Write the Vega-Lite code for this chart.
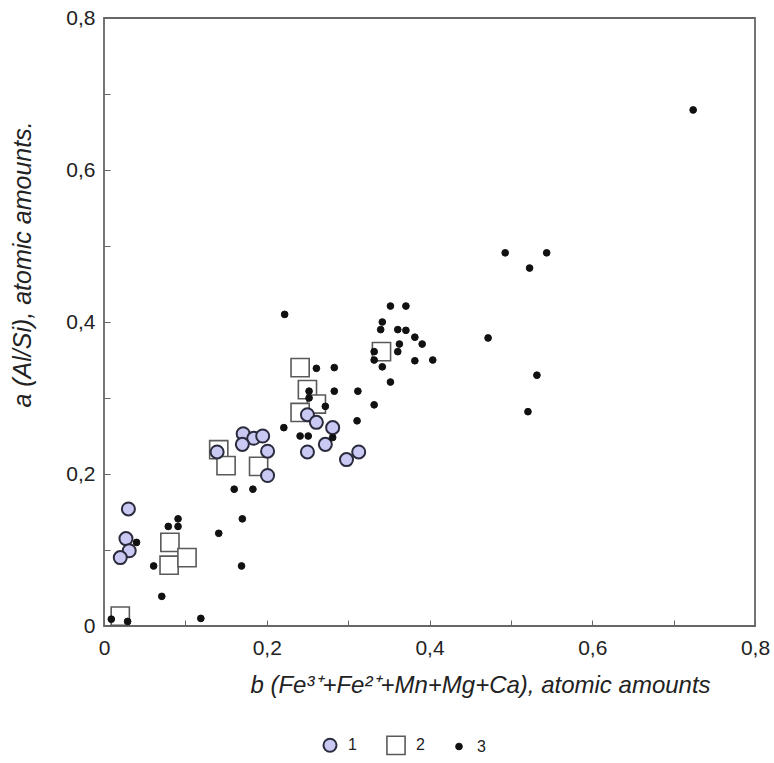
{
  "$schema": "https://vega.github.io/schema/vega-lite/v6.json",
  "width": 651,
  "height": 608,
  "autosize": {"type": "none"},
  "padding": {"left": 104, "top": 18, "right": 19, "bottom": 137},
  "background": "white",
  "config": {
    "view": {"stroke": "#666666", "strokeWidth": 1.8},
    "font": "Liberation Sans"
  },
  "data": {
    "values": [
      {"x": 0.020, "y": 0.013, "g": "2"},
      {"x": 0.081, "y": 0.110, "g": "2"},
      {"x": 0.080, "y": 0.080, "g": "2"},
      {"x": 0.102, "y": 0.090, "g": "2"},
      {"x": 0.141, "y": 0.232, "g": "2"},
      {"x": 0.150, "y": 0.211, "g": "2"},
      {"x": 0.190, "y": 0.210, "g": "2"},
      {"x": 0.241, "y": 0.340, "g": "2"},
      {"x": 0.250, "y": 0.311, "g": "2"},
      {"x": 0.261, "y": 0.292, "g": "2"},
      {"x": 0.241, "y": 0.281, "g": "2"},
      {"x": 0.341, "y": 0.361, "g": "2"},
      {"x": 0.030, "y": 0.154, "g": "1"},
      {"x": 0.027, "y": 0.115, "g": "1"},
      {"x": 0.031, "y": 0.099, "g": "1"},
      {"x": 0.020, "y": 0.090, "g": "1"},
      {"x": 0.139, "y": 0.229, "g": "1"},
      {"x": 0.171, "y": 0.253, "g": "1"},
      {"x": 0.184, "y": 0.247, "g": "1"},
      {"x": 0.195, "y": 0.250, "g": "1"},
      {"x": 0.170, "y": 0.239, "g": "1"},
      {"x": 0.201, "y": 0.230, "g": "1"},
      {"x": 0.201, "y": 0.198, "g": "1"},
      {"x": 0.250, "y": 0.278, "g": "1"},
      {"x": 0.261, "y": 0.268, "g": "1"},
      {"x": 0.281, "y": 0.261, "g": "1"},
      {"x": 0.272, "y": 0.239, "g": "1"},
      {"x": 0.250, "y": 0.229, "g": "1"},
      {"x": 0.298, "y": 0.219, "g": "1"},
      {"x": 0.313, "y": 0.229, "g": "1"},
      {"x": 0.009, "y": 0.009, "g": "3"},
      {"x": 0.029, "y": 0.006, "g": "3"},
      {"x": 0.040, "y": 0.110, "g": "3"},
      {"x": 0.061, "y": 0.079, "g": "3"},
      {"x": 0.071, "y": 0.039, "g": "3"},
      {"x": 0.079, "y": 0.131, "g": "3"},
      {"x": 0.091, "y": 0.131, "g": "3"},
      {"x": 0.091, "y": 0.141, "g": "3"},
      {"x": 0.119, "y": 0.010, "g": "3"},
      {"x": 0.141, "y": 0.122, "g": "3"},
      {"x": 0.160, "y": 0.180, "g": "3"},
      {"x": 0.183, "y": 0.180, "g": "3"},
      {"x": 0.170, "y": 0.141, "g": "3"},
      {"x": 0.169, "y": 0.079, "g": "3"},
      {"x": 0.222, "y": 0.410, "g": "3"},
      {"x": 0.221, "y": 0.261, "g": "3"},
      {"x": 0.241, "y": 0.250, "g": "3"},
      {"x": 0.251, "y": 0.250, "g": "3"},
      {"x": 0.261, "y": 0.339, "g": "3"},
      {"x": 0.283, "y": 0.340, "g": "3"},
      {"x": 0.252, "y": 0.309, "g": "3"},
      {"x": 0.252, "y": 0.300, "g": "3"},
      {"x": 0.283, "y": 0.309, "g": "3"},
      {"x": 0.312, "y": 0.309, "g": "3"},
      {"x": 0.272, "y": 0.289, "g": "3"},
      {"x": 0.311, "y": 0.270, "g": "3"},
      {"x": 0.332, "y": 0.291, "g": "3"},
      {"x": 0.281, "y": 0.248, "g": "3"},
      {"x": 0.352, "y": 0.421, "g": "3"},
      {"x": 0.371, "y": 0.421, "g": "3"},
      {"x": 0.342, "y": 0.400, "g": "3"},
      {"x": 0.340, "y": 0.390, "g": "3"},
      {"x": 0.361, "y": 0.390, "g": "3"},
      {"x": 0.371, "y": 0.389, "g": "3"},
      {"x": 0.382, "y": 0.380, "g": "3"},
      {"x": 0.391, "y": 0.371, "g": "3"},
      {"x": 0.363, "y": 0.371, "g": "3"},
      {"x": 0.361, "y": 0.361, "g": "3"},
      {"x": 0.332, "y": 0.361, "g": "3"},
      {"x": 0.332, "y": 0.350, "g": "3"},
      {"x": 0.382, "y": 0.349, "g": "3"},
      {"x": 0.404, "y": 0.350, "g": "3"},
      {"x": 0.342, "y": 0.341, "g": "3"},
      {"x": 0.352, "y": 0.321, "g": "3"},
      {"x": 0.724, "y": 0.679, "g": "3"},
      {"x": 0.493, "y": 0.491, "g": "3"},
      {"x": 0.544, "y": 0.491, "g": "3"},
      {"x": 0.523, "y": 0.471, "g": "3"},
      {"x": 0.472, "y": 0.379, "g": "3"},
      {"x": 0.532, "y": 0.330, "g": "3"},
      {"x": 0.521, "y": 0.282, "g": "3"}
    ]
  },
  "mark": {"type": "point", "filled": false, "opacity": 1},
  "encoding": {
    "x": {
      "field": "x", "type": "quantitative",
      "scale": {"domain": [0, 0.8], "nice": false, "zero": false},
      "axis": {
        "title": "b (Fe³⁺+Fe²⁺+Mn+Mg+Ca), atomic amounts",
        "titleFont": "Liberation Sans", "titleFontStyle": "italic", "titleFontWeight": "normal",
        "titleFontSize": 24, "titleColor": "#222", "titlePadding": 15, "titleX": 376,
        "values": [0, 0.1, 0.2, 0.3, 0.4, 0.5, 0.6, 0.7, 0.8],
        "labelExpr": "round(datum.value*10) % 2 == 0 ? (datum.value == 0 ? '0' : replace(format(datum.value, '.1f'), '.', ',')) : ''",
        "labelFontSize": 21, "labelColor": "#222", "labelPadding": 17, "labelFlush": false,
        "grid": false, "domain": false,
        "tickSize": -6, "tickColor": "#666", "tickWidth": 1
      }
    },
    "y": {
      "field": "y", "type": "quantitative",
      "scale": {"domain": [0, 0.8], "nice": false, "zero": false},
      "axis": {
        "title": "a (Al/Si), atomic amounts.",
        "titleFont": "Liberation Sans", "titleFontStyle": "italic", "titleFontWeight": "normal",
        "titleFontSize": 25, "titleColor": "#222", "titlePadding": 30, "titleY": 246,
        "values": [0, 0.1, 0.2, 0.3, 0.4, 0.5, 0.6, 0.7, 0.8],
        "labelExpr": "round(datum.value*10) % 2 == 0 ? (datum.value == 0 ? '0' : replace(format(datum.value, '.1f'), '.', ',')) : ''",
        "labelFontSize": 21, "labelColor": "#222", "labelPadding": 15, "labelFlush": false,
        "grid": false, "domain": false,
        "tickSize": -6, "tickColor": "#666", "tickWidth": 1
      }
    },
    "shape": {
      "field": "g", "type": "nominal",
      "scale": {"domain": ["1", "2", "3"], "range": ["circle", "square", "circle"]},
      "legend": {
        "title": null, "orient": "none", "direction": "horizontal",
        "legendX": 218, "legendY": 717,
        "labelFontSize": 16, "labelColor": "#222", "columnPadding": 26, "labelOffset": 10
      }
    },
    "size": {
      "field": "g", "type": "nominal",
      "scale": {"type": "ordinal", "domain": ["1", "2", "3"], "range": [170, 330, 45]}
    },
    "fill": {
      "field": "g", "type": "nominal",
      "scale": {"domain": ["1", "2", "3"], "range": ["#c9c9f3", "#ffffff", "#111111"]}
    },
    "stroke": {
      "field": "g", "type": "nominal",
      "scale": {"domain": ["1", "2", "3"], "range": ["#2b2b3d", "#5a5a5a", "#111111"]}
    },
    "strokeWidth": {
      "field": "g", "type": "nominal",
      "scale": {"type": "ordinal", "domain": ["1", "2", "3"], "range": [2, 1.6, 1]}
    }
  }
}
